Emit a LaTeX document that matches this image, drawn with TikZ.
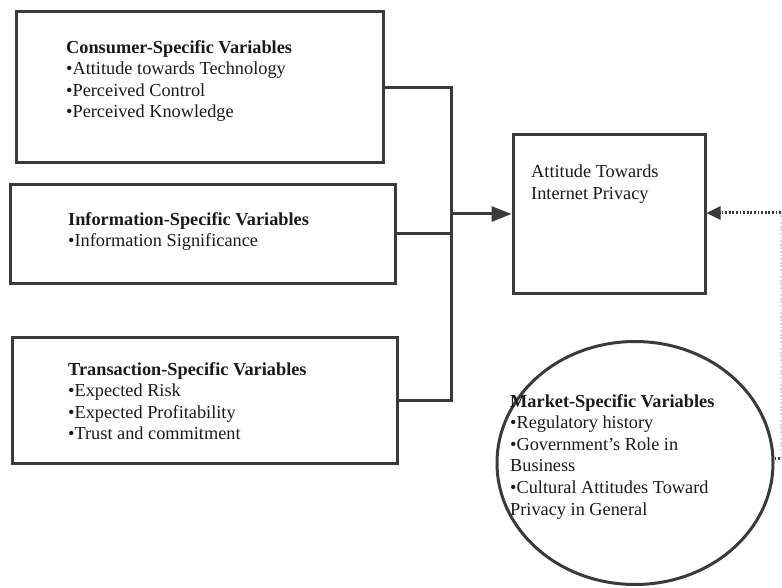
\documentclass[tikz,border=0pt]{standalone}
\usepackage{fontspec}
\setmainfont{Liberation Serif}
\usetikzlibrary{arrows.meta,shapes.geometric}
\definecolor{ln}{HTML}{3A3A3A}
\definecolor{tx}{HTML}{1A1A1A}
\tikzset{
  box/.style={draw=ln, line width=3pt, rectangle, inner sep=0pt},
  lbl/.style={anchor=north west, align=left, inner sep=0pt, text=tx,
    font=\fontsize{18.3}{21.6}\selectfont},
  conn/.style={draw=ln, line width=3pt},
  dotline/.style={draw=ln, line width=3pt, dash pattern=on 1.8pt off 1.8pt},
}
\begin{document}
\begin{tikzpicture}[x=1pt,y=-1pt]
\useasboundingbox (0,0) rectangle (782,588);
% boxes
\node[box, minimum width=367pt, minimum height=151pt] (cons) at (199.5,87.5) {};
\node[box, minimum width=385pt, minimum height=98pt] (info) at (202.5,234) {};
\node[box, minimum width=385pt, minimum height=126pt] (trans) at (204.5,400) {};
\node[box, minimum width=192pt, minimum height=158pt] (att) at (609,214) {};
\node[draw=ln, line width=3pt, ellipse, minimum width=276pt, minimum height=243pt, inner sep=0pt] (mkt) at (635,463) {};
% texts
\node[lbl] (constx) at (66,40) {\textbf{Consumer-Specific Variables}\\ •Attitude towards Technology\\ •Perceived Control\\ •Perceived Knowledge};
\node[lbl] (infotx) at (68,212) {\textbf{Information-Specific Variables}\\ •Information Significance};
\node[lbl] (transtx) at (68,362) {\textbf{Transaction-Specific Variables}\\ •Expected Risk\\ •Expected Profitability\\ •Trust and commitment};
\node[lbl] (atttx) at (531,165) {Attitude Towards\\ Internet Privacy};
\node[lbl] (mkttx) at (510,394) {\textbf{Market-Specific Variables}\\ •Regulatory history\\ •Government’s Role in\\ Business\\ •Cultural Attitudes Toward\\ Privacy in General};
% connectors
\coordinate (j) at (451,214);
\draw[conn] (cons.east) -| (j);
\draw[conn] (trans.east) -| (j);
\draw[conn] (info.east) -- (info.east -| j);
\draw[conn, -{Triangle[length=20pt,width=15pt]}] (j) -- (att.west);
\coordinate (mr) at (781,458);
\coordinate (ar) at (781,213);
\draw[dotline] (mkt.east |- mr) -- (mr);
\draw[dotline, draw=ln!20] (mr) -- (ar);
\draw[dotline, -{Triangle[length=14pt,width=13pt]}] (ar) -- (att.east |- ar);
\end{tikzpicture}
\end{document}
